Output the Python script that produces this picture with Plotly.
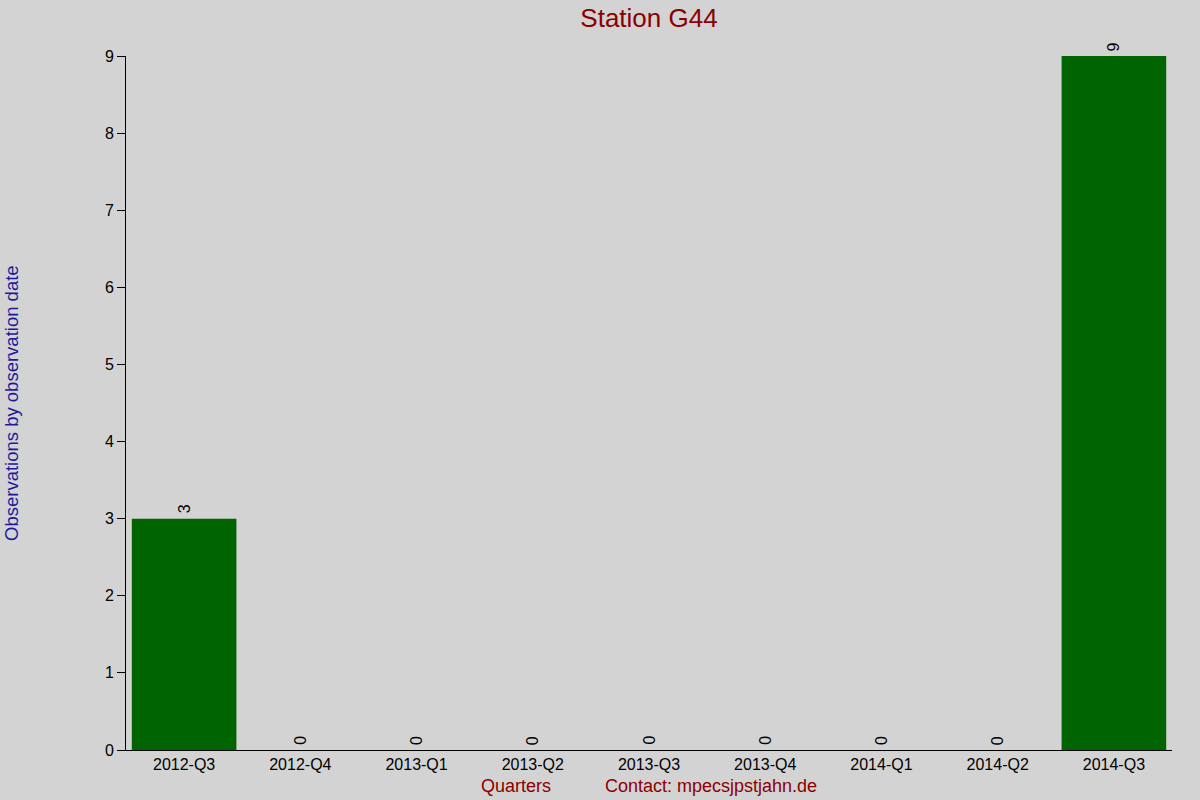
import plotly.graph_objects as go

# Daten: Beobachtungen pro Quartal
quarters = ["2012-Q3", "2012-Q4", "2013-Q1", "2013-Q2", "2013-Q3",
            "2013-Q4", "2014-Q1", "2014-Q2", "2014-Q3"]
observations = [3, 0, 0, 0, 0, 0, 0, 0, 9]
y_ticks = [0, 1, 2, 3, 4, 5, 6, 7, 8, 9]

title_text = "Station G44"
y_title = "Observations by observation date"
x_title = "Quarters"
contact_text = "Contact: mpecsjpstjahn.de"

FONT = "Liberation Sans, Arial, sans-serif"
DARK_RED = "#8b0000"
DARK_BLUE = "#1a1a9c"

# Plotbereich in Pixeln
W, H = 1200, 800
plot_l, plot_r, plot_t, plot_b = 126, 1172, 56, 750


def px_to_paper(px, py):
    return (px - plot_l) / (plot_r - plot_l), (plot_b - py) / (plot_b - plot_t)


fig = go.Figure()

fig.add_trace(go.Bar(
    x=quarters,
    y=observations,
    marker=dict(color="#006400", line=dict(width=0)),
    hoverinfo="x+y",
    showlegend=False
))

# Werte-Beschriftung über den Balken (um 90° gedreht)
annotations = []
for q, v in zip(quarters, observations):
    annotations.append(dict(
        x=q, y=v, xref="x", yref="y",
        text=str(v), showarrow=False,
        textangle=-90, yanchor="bottom", yshift=3,
        font=dict(family=FONT, size=16, color="black")
    ))

# Achsentitel und Kontakt
qx, qy = px_to_paper(516, 786)
annotations.append(dict(
    x=qx, y=qy, xref="paper", yref="paper", text=x_title, showarrow=False,
    xanchor="center", yanchor="middle",
    font=dict(family=FONT, size=18, color=DARK_RED)
))
cx, cy = px_to_paper(603, 786)
annotations.append(dict(
    x=cx, y=cy, xref="paper", yref="paper", text=contact_text, showarrow=False,
    xanchor="left", yanchor="middle",
    font=dict(family=FONT, size=18, color=DARK_RED)
))
yx, yy = px_to_paper(11, 403)
annotations.append(dict(
    x=yx, y=yy, xref="paper", yref="paper", text=y_title, showarrow=False,
    textangle=-90, xanchor="center", yanchor="middle",
    font=dict(family=FONT, size=18.5, color=DARK_BLUE)
))

fig.update_layout(
    width=W, height=H,
    paper_bgcolor="#d3d3d3",
    plot_bgcolor="#d3d3d3",
    margin=dict(l=plot_l, r=W - plot_r, t=plot_t, b=H - plot_b, pad=0),
    bargap=0.1,
    title=dict(
        text=title_text, x=0.5, xref="paper", y=1 - 18 / H, yanchor="middle",
        font=dict(family=FONT, size=26, color=DARK_RED)
    ),
    font=dict(family=FONT, size=16, color="black"),
    annotations=annotations,
    xaxis=dict(
        type="category",
        range=[-0.5, len(quarters) - 0.5],
        showgrid=False, zeroline=False,
        showline=True, linecolor="black", linewidth=1,
        ticks="", tickfont=dict(family=FONT, size=16, color="black"),
        fixedrange=True
    ),
    yaxis=dict(
        range=[0, 9],
        tickvals=y_ticks,
        showgrid=False, zeroline=False,
        showline=True, linecolor="black", linewidth=1,
        ticks="outside", ticklen=8, tickcolor="black",
        tickfont=dict(family=FONT, size=16, color="black"),
        fixedrange=True
    )
)

# Seitenrand des Browsers entfernen, damit die Grafik bei (0,0) beginnt
fig.write_html("out.html", config={"displayModeBar": False},
               post_script="document.body.style.margin='0';")
